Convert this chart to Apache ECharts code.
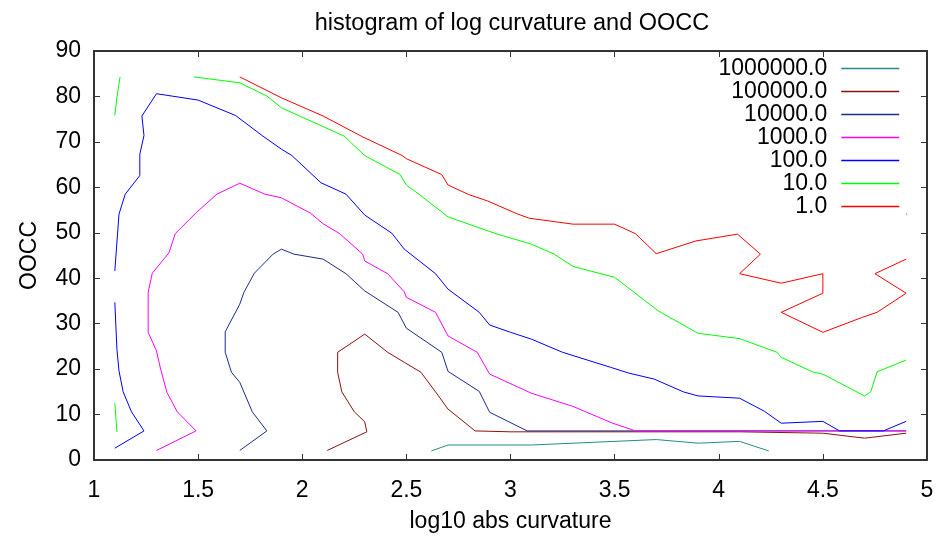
<!DOCTYPE html>
<html><head><meta charset="utf-8">
<script src="https://cdn.jsdelivr.net/npm/echarts@6/dist/echarts.min.js"></script>
<style>html,body{margin:0;padding:0;background:#fff}#c{width:938px;height:538px}</style>
</head><body><div id="c"></div>
<script>
// contour levels (legend order, top to bottom)
const levelLabels = ['1000000.0', '100000.0', '10000.0', '1000.0', '100.0', '10.0', '1.0'];
const levelColors = ['#1f8f8a', '#8b1010', '#1e2a8c', '#ff00ff', '#0000ff', '#00ff00', '#ff0000'];

// contour paths: [log10 abs curvature, OOCC]
const c1000000 = [[2.62,2.0],[2.70,3.3],[3.10,3.3],[3.70,4.5],[3.90,3.7],[4.10,4.1],[4.24,2.0]];
const c100000 = [[2.12,2.1],[2.31,6.2],[2.30,8.4],[2.25,10.6],[2.19,15.0],[2.17,19.3],[2.17,23.7],[2.30,27.7],[2.41,23.7],[2.49,21.5],[2.57,19.3],[2.64,15.0],[2.70,11.2],[2.83,6.4],[3.00,6.2],[4.10,6.2],[4.50,5.9],[4.70,4.8],[4.90,5.9]];
const c10000 = [[1.70,2.1],[1.83,6.4],[1.76,10.6],[1.70,17.1],[1.66,19.3],[1.63,23.7],[1.63,28.2],[1.70,34.3],[1.72,36.9],[1.77,41.1],[1.86,45.3],[1.90,46.4],[1.96,45.3],[2.10,44.2],[2.21,41.0],[2.30,37.2],[2.46,32.5],[2.50,29.0],[2.67,23.7],[2.70,19.5],[2.85,15.1],[2.90,10.5],[3.08,6.4],[4.90,6.4]];
const c1000 = [[1.30,2.1],[1.49,6.4],[1.40,10.6],[1.35,14.9],[1.32,20.0],[1.30,24.0],[1.26,28.1],[1.26,36.9],[1.28,41.1],[1.36,45.6],[1.39,49.8],[1.49,54.4],[1.59,58.5],[1.70,60.9],[1.82,58.5],[1.90,57.7],[2.04,54.3],[2.10,52.0],[2.18,49.8],[2.29,45.3],[2.30,43.8],[2.41,41.0],[2.49,37.0],[2.50,35.8],[2.64,32.5],[2.70,27.3],[2.84,23.7],[2.90,18.9],[3.10,14.7],[3.30,11.8],[3.49,8.1],[3.60,6.4],[4.90,6.4]];
const c100a = [[1.10,2.6],[1.24,6.4],[1.18,10.6],[1.14,15.0],[1.12,19.6],[1.11,24.4],[1.10,34.7]];
const c100b = [[1.10,41.6],[1.12,54.1],[1.15,58.5],[1.22,62.6],[1.22,67.3],[1.24,71.4],[1.23,75.7],[1.30,80.6],[1.50,79.2],[1.68,75.8],[1.81,71.3],[1.90,68.4],[1.95,67.0],[2.09,61.0],[2.21,58.5],[2.30,53.9],[2.43,49.9],[2.49,46.4],[2.64,41.0],[2.70,37.6],[2.85,32.5],[2.90,29.7],[3.00,28.1],[3.10,26.6],[3.25,23.7],[3.48,20.4],[3.57,19.1],[3.69,17.8],[3.83,15.0],[3.90,14.1],[4.10,13.6],[4.22,10.7],[4.30,8.1],[4.50,8.5],[4.58,6.4],[4.79,6.4],[4.90,8.5]];
const c10a = [[1.10,75.8],[1.11,79.7],[1.125,84.3]];
const c10b = [[1.10,12.5],[1.11,6.2]];
const c10c = [[1.48,84.3],[1.70,83.0],[1.83,80.1],[1.90,77.5],[2.20,71.3],[2.30,67.0],[2.47,62.8],[2.50,60.5],[2.56,58.5],[2.70,53.5],[2.93,49.8],[3.10,47.5],[3.21,45.3],[3.30,42.6],[3.50,40.2],[3.71,32.8],[3.90,27.9],[4.10,26.7],[4.28,23.7],[4.30,22.6],[4.45,19.4],[4.50,18.9],[4.70,14.1],[4.73,15.0],[4.76,19.4],[4.90,22.0]];
const c1a = [[1.70,84.3],[1.90,79.7],[2.10,75.7],[2.29,71.1],[2.48,67.0],[2.50,66.3],[2.67,62.8],[2.70,60.5],[2.80,58.4],[2.89,57.0],[3.03,54.2],[3.09,53.2],[3.30,51.9],[3.50,51.9],[3.60,49.8],[3.70,45.4],[3.89,48.2],[4.09,49.7],[4.20,45.3],[4.10,41.0],[4.30,38.9],[4.50,41.0],[4.50,36.7],[4.30,32.5],[4.50,28.1],[4.69,31.4],[4.76,32.5],[4.90,36.7],[4.75,41.0],[4.90,44.2]];
const c1b = [[4.900,54.2],[4.905,54.0]];

const segments = [[0,c1000000],[1,c100000],[2,c10000],[3,c1000],[4,c100a],[4,c100b],[5,c10a],[5,c10b],[5,c10c],[6,c1a],[6,c1b]];

const FONT = 'Liberation Sans, Arial, sans-serif';
const FS = 23;
const chart = echarts.init(document.getElementById('c'), null, {renderer: 'canvas'});

const axisLine = {show: true, onZero: false, lineStyle: {color: '#333', width: 2}};
const axisTick = {show: true, inside: true, length: 6, lineStyle: {color: '#333', width: 1}};

chart.setOption({
  animation: false,
  backgroundColor: '#fff',
  title: {
    text: 'histogram of log curvature and OOCC',
    left: 512, top: 12, textAlign: 'center', padding: 0,
    textStyle: {fontFamily: FONT, fontSize: 23.5, fontWeight: 'normal', color: '#000'}
  },
  grid: {left: 94, right: 11, top: 51, bottom: 77, containLabel: false},
  legend: {
    orient: 'vertical', align: 'right', right: 38, top: 57, padding: 0,
    itemWidth: 58, itemHeight: 14, itemGap: 0, selectedMode: false,
    data: levelLabels,
    itemStyle: {opacity: 0},
    lineStyle: {width: 1.5},
    textStyle: {fontFamily: FONT, fontSize: FS, color: '#000', padding: [0, 9, 0, 0]}
  },
  xAxis: [
    {type: 'value', min: 1, max: 5, interval: 0.5, position: 'bottom',
     name: 'log10 abs curvature', nameLocation: 'middle', nameGap: 50,
     nameTextStyle: {fontFamily: FONT, fontSize: FS, color: '#000'},
     axisLine: axisLine, axisTick: axisTick, splitLine: {show: false},
     axisLabel: {fontFamily: FONT, fontSize: FS, color: '#000', margin: 19}},
    {type: 'value', min: 1, max: 5, interval: 0.5, position: 'top',
     axisLine: axisLine, axisTick: axisTick, splitLine: {show: false},
     axisLabel: {show: false}}
  ],
  yAxis: [
    {type: 'value', min: 0, max: 90, interval: 10, position: 'left',
     name: 'OOCC', nameLocation: 'middle', nameGap: 53,
     nameTextStyle: {fontFamily: FONT, fontSize: FS, color: '#000'},
     axisLine: axisLine, axisTick: axisTick, splitLine: {show: false},
     axisLabel: {fontFamily: FONT, fontSize: FS, color: '#000', margin: 13}},
    {type: 'value', min: 0, max: 90, interval: 10, position: 'right',
     axisLine: axisLine, axisTick: axisTick, splitLine: {show: false},
     axisLabel: {show: false}}
  ],
  series: segments.map(([i, d]) => ({
    type: 'line', name: levelLabels[i], data: d,
    xAxisIndex: 0, yAxisIndex: 0,
    symbol: 'none', showSymbol: false, silent: true, z: 2 + i,
    lineStyle: {color: levelColors[i], width: 1},
    itemStyle: {color: levelColors[i]}
  }))
});
</script></body></html>
